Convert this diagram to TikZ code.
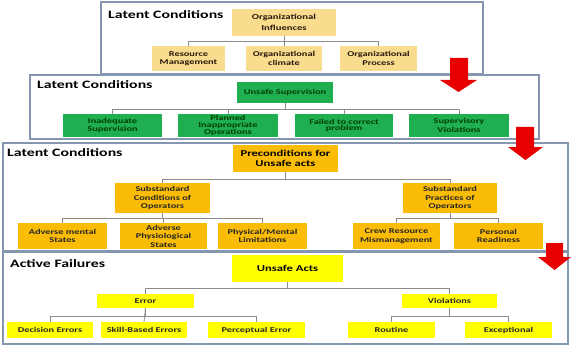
\documentclass[tikz,border=0pt]{standalone}
\usepackage{fontspec}
\newfontfamily\cf{Carlito}[FakeStretch=1.4]
\definecolor{framec}{HTML}{8597B0}
\definecolor{orgc}{HTML}{FADC8E}
\definecolor{greenc}{HTML}{1FAE50}
\definecolor{orangec}{HTML}{FBBC05}
\definecolor{yellowc}{HTML}{FFFF00}
\definecolor{redc}{HTML}{E80000}
\definecolor{connc}{HTML}{8C8C8C}
\definecolor{txtc}{HTML}{262626}
\tikzset{
  panel/.style={draw=framec, line width=1.3pt, fill=white},
  ptitle/.style={anchor=west, inner sep=0pt, font=\cf\bfseries\fontsize{11.3}{12}\selectfont, text=black},
  box/.style={inner sep=0pt, align=center, text=txtc, font=\cf\bfseries\fontsize{7.4}{8.5}\selectfont},
  bigbox/.style={box, font=\cf\bfseries\fontsize{9}{10}\selectfont, text=black},
  orgbox/.style={box, fill=orgc, font=\cf\bfseries\fontsize{7.6}{11}\selectfont, text=black!80!brown},
  grbox/.style={box, fill=greenc, text=black!75!green},
  orbox/.style={box, fill=orangec},
  yebox/.style={box, fill=yellowc},
  conn/.style={draw=connc, line width=0.8pt},
  redarrow/.style={fill=redc, draw=none}
}
\begin{document}
\begin{tikzpicture}[x=1pt,y=-1pt]
\useasboundingbox (0,0) rectangle (571,345);
% panels
\draw[panel] (101,2) rectangle (483,74);
\draw[panel] (30,75) rectangle (539,139);
\draw[panel] (3,143) rectangle (568,251);
\draw[panel] (3,252.5) rectangle (568,344);
% titles
\node[ptitle] (t1) at (108,14.5) {Latent Conditions};
\node[ptitle] (t2) at (37,85) {Latent Conditions};
\node[ptitle] (t3) at (7,153) {Latent Conditions};
\node[ptitle] (t4) at (10,263.5) {Active Failures};
% panel 1
\node[orgbox, minimum width=104, minimum height=27] (OI) at (284,22.5) {Organizational\\Influences};
\node[orgbox, minimum width=73, minimum height=25, font=\cf\bfseries\fontsize{7.4}{8.5}\selectfont] (RM) at (188.5,58.5) {Resource\\Management};
\node[orgbox, minimum width=76, minimum height=25, font=\cf\bfseries\fontsize{7.4}{8.5}\selectfont] (OC) at (284,58.5) {Organizational\\climate};
\node[orgbox, minimum width=77, minimum height=25, font=\cf\bfseries\fontsize{7.4}{8.5}\selectfont] (OP) at (378.5,58.5) {Organizational\\Process};
\draw[conn] (OI.south) -- ++(0,5) -| (RM.north);
\draw[conn] (OI.south) -- ++(0,5) -| (OP.north);
\draw[conn] (OI.south) -- (OC.north);
% panel 2
\node[grbox, minimum width=96, minimum height=21] (US) at (285,92.5) {Unsafe Supervision};
\node[grbox, minimum width=99, minimum height=23] (IS) at (112.5,125.5) {Inadequate\\Supervision};
\node[grbox, minimum width=100, minimum height=23, font=\cf\bfseries\fontsize{7.4}{7.2}\selectfont] (PIO) at (228,125.5) {Planned\\Inappropriate\\Operations};
\node[grbox, minimum width=98, minimum height=23, font=\cf\bfseries\fontsize{7.4}{6.5}\selectfont] (FCP) at (344,125.5) {Failed to correct\\problem};
\node[grbox, minimum width=100, minimum height=23] (SV) at (459,125.5) {Supervisory\\Violations};
\draw[conn] (US.south) -- ++(0,6) -| (IS.north);
\draw[conn] (US.south) -- ++(0,6) -| (PIO.north);
\draw[conn] (US.south) -- ++(0,6) -| (FCP.north);
\draw[conn] (US.south) -- ++(0,6) -| (SV.north);
% panel 3
\node[orbox, bigbox, fill=orangec, minimum width=105, minimum height=27] (PUA) at (285.5,158.5) {Preconditions for\\Unsafe acts};
\node[orbox, minimum width=95, minimum height=30] (SCO) at (162.5,198) {Substandard\\Conditions of\\Operators};
\node[orbox, minimum width=94, minimum height=30] (SPO) at (450,198) {Substandard\\Practices of\\Operators};
\node[orbox, minimum width=89, minimum height=26] (AMS) at (62.5,236) {Adverse mental\\States};
\node[orbox, minimum width=87, minimum height=26] (APS) at (163.5,236) {Adverse\\Physiological\\States};
\node[orbox, minimum width=89, minimum height=26] (PML) at (262.5,236) {Physical/Mental\\Limitations};
\node[orbox, minimum width=87, minimum height=26] (CRM) at (396.5,236) {Crew Resource\\Mismanagement};
\node[orbox, minimum width=89, minimum height=26] (PR) at (498.5,236) {Personal\\Readiness};
\draw[conn] (PUA.south) -- ++(0,7) -| (SCO.north);
\draw[conn] (PUA.south) -- ++(0,7) -| (SPO.north);
\draw[conn] (SCO.south) -- ++(0,5) -| (AMS.north);
\draw[conn] (SCO.south) -- ++(0,5) -| (PML.north);
\draw[conn] (SCO.south) -- ++(0,5) -| (APS.north);
\draw[conn] (SPO.south) -- ++(0,5) -| (CRM.north);
\draw[conn] (SPO.south) -- ++(0,5) -| (PR.north);
% panel 4
\node[yebox, bigbox, fill=yellowc, minimum width=111, minimum height=27] (UA) at (287.5,268.5) {Unsafe Acts};
\node[yebox, minimum width=97, minimum height=14] (ER) at (145.5,301) {Error};
\node[yebox, minimum width=95, minimum height=14] (VI) at (449.5,301) {Violations};
\node[yebox, minimum width=86, minimum height=16] (DE) at (50,330) {Decision Errors};
\node[yebox, minimum width=86, minimum height=16] (SB) at (144,330) {Skill-Based Errors};
\node[yebox, minimum width=97, minimum height=16] (PE) at (256.5,330) {Perceptual Error};
\node[yebox, minimum width=87, minimum height=16] (RO) at (391.5,330) {Routine};
\node[yebox, minimum width=87, minimum height=16] (EX) at (508.5,330) {Exceptional};
\draw[conn] (UA.south) -- ++(0,6) -| (ER.north);
\draw[conn] (UA.south) -- ++(0,6) -| (VI.north);
\draw[conn] (ER.south) -- ++(0,8) -| (DE.north);
\draw[conn] (ER.south) -- ++(0,8) -| (PE.north);
\draw[conn] (ER.south) -- (SB.north);
\draw[conn] (VI.south) -- ++(0,8) -| (RO.north);
\draw[conn] (VI.south) -- ++(0,8) -| (EX.north);
% red arrows
\fill[redarrow] (450,58) -- (468,58) -- (468,80) -- (477,80) -- (458.5,92) -- (440,80) -- (450,80) -- cycle;
\fill[redarrow] (516,127) -- (534,127) -- (534,147) -- (543,147) -- (525.5,160) -- (508,147) -- (516,147) -- cycle;
\fill[redarrow] (546,243) -- (563,243) -- (563,257) -- (571,257) -- (554.5,270) -- (538,257) -- (546,257) -- cycle;
\end{tikzpicture}
\end{document}
